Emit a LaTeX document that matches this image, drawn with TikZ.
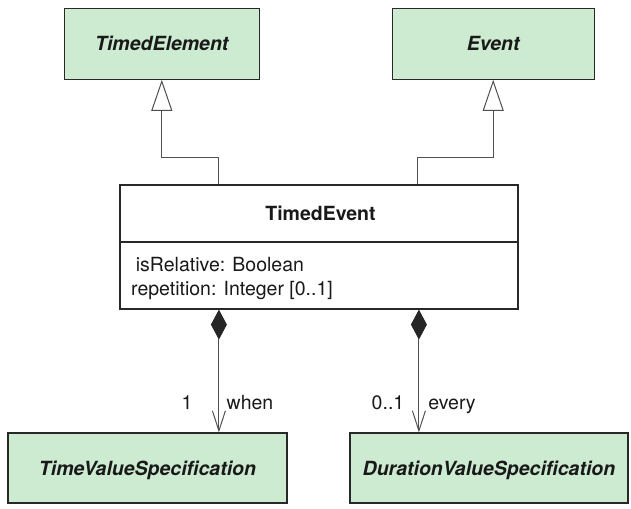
\documentclass[tikz,border=0pt]{standalone}
\usepackage{fontspec}
\setmainfont{TeX Gyre Heros}
\usetikzlibrary{arrows.meta}
\definecolor{umlgreen}{RGB}{204,235,208}
\definecolor{umlline}{RGB}{40,40,40}
\definecolor{connline}{RGB}{80,80,80}
\begin{document}
\begin{tikzpicture}[x=1bp,y=-1bp,
  every node/.style={font=\fontsize{19.5bp}{23bp}\selectfont, inner sep=0pt, text=black!90},
  classbox/.style={draw=umlline, fill=umlgreen, line width=1.2bp, minimum height=71bp,
    text height=14bp, text depth=0pt,
    font=\fontsize{19.5bp}{23bp}\selectfont\bfseries\itshape},
  mainbox/.style={draw=umlline, fill=white, line width=1.2bp},
  gen/.style={draw=connline, line width=1bp,
    -{Triangle[length=31bp,width=21bp,fill=white,line width=1bp]}},
  comp/.style={draw=connline, line width=1bp,
    {Diamond[length=30bp,width=16bp,color=black!85]}-{Straight Barb[length=20bp,width=13bp,line width=1bp]}},
  attr/.style={anchor=base west},
  lbl/.style={anchor=base}
]
\useasboundingbox (0,0) rectangle (631,509);

% super classes
\node[classbox, minimum width=195bp] (tel) at (161.8,43.7) {TimedElement};
\node[classbox, minimum width=202bp] (ev) at (493.2,43.7) {Event};

% main class
\node[mainbox, minimum width=398bp, minimum height=124bp] (tev) at (319,247) {};
\draw[umlline, line width=1.2bp] (tev.west |- 0,242) -- (tev.east |- 0,242);
\node[anchor=base, font=\fontsize{19.5bp}{23bp}\selectfont\bfseries] (tevname) at (320.5,220.7) {TimedEvent};
\node[attr] (a1) at (135.7,271.7) {isRelative: Boolean};
\node[attr] (a2) at (131,295) {repetition: Integer [0..1]};

% part classes
\node[classbox, minimum width=279bp, minimum height=70bp] (tv) at (147.5,468) {TimeValueSpecification};
\node[classbox, minimum width=278bp, minimum height=70bp] (dv) at (489,468) {DurationValueSpecification};

% generalizations
\draw[gen] ([xshift=99.3bp]tev.north west) -- ++(0,-27) -| (tel.south);
\draw[gen] ([xshift=298bp]tev.north west) -- ++(0,-27) -| (ev.south);

% compositions
\draw[comp] ([xshift=99.5bp]tev.south west) -- ([xshift=99.5bp]tev.south west |- tv.north);
\draw[comp] ([xshift=299.5bp]tev.south west) -- ([xshift=299.5bp]tev.south west |- dv.north);

% labels
\node[lbl] (m1) at (187,409) {1};
\node[lbl] (r1) at (250,409) {when};
\node[lbl] (m2) at (388,409) {0..1};
\node[lbl] (r2) at (452,409) {every};
\end{tikzpicture}
\end{document}
